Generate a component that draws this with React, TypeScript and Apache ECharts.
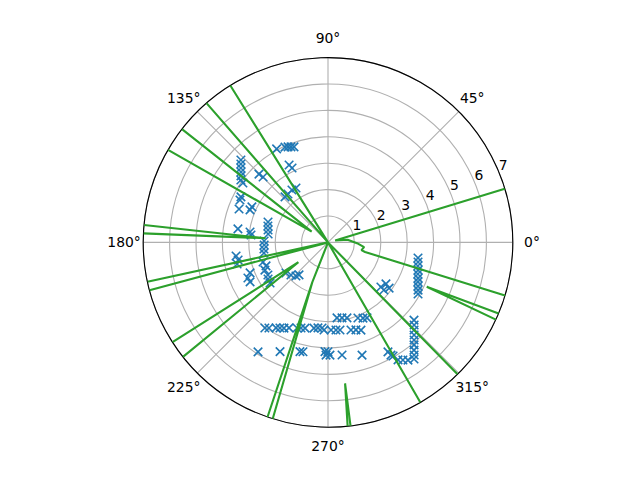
import React, { useEffect, useRef } from 'react';
import * as echarts from 'echarts';

// ---- data (radius, angle in degrees) ----
const angleTicks = [0, 45, 90, 135, 180, 225, 270, 315];
const radiusMax = 7;

// blue "x" markers: [radius, angle°]
const markers: [number, number][] = [
  [4.04, 118.8], [3.96, 114.3], [3.92, 112.7], [3.88, 111.2], [3.84, 109.6],
  [3.28, 116.7], [3.13, 115.8],
  [4.54, 136.6], [4.44, 138.0], [4.34, 139.5], [4.24, 141.0], [4.15, 142.6], [4.06, 144.4], [3.93, 145.1],
  [3.68, 135.3], [3.49, 134.8],
  [2.38, 129.6], [2.41, 124.5], [2.39, 120.5], [2.37, 133.4],
  [3.72, 152.4], [3.70, 154.3], [3.60, 159.4], [3.18, 155.0], [3.20, 157.4],
  [3.45, 171.5], [2.98, 172.4], [2.93, 174.5],
  [2.40, 161.2], [2.36, 164.7], [2.32, 168.3], [2.29, 172.0],
  [2.42, 178.7], [2.42, 182.3], [2.44, 185.9], [2.46, 189.4],
  [3.52, 188.4], [3.47, 191.1], [3.54, 193.4],
  [2.57, 196.8], [2.51, 200.8], [2.61, 203.7],
  [3.17, 201.4], [3.32, 204.0], [3.31, 206.9],
  [2.59, 208.5], [2.66, 211.4], [2.68, 215.0],
  [1.97, 216.1], [1.87, 221.4], [1.76, 226.4], [1.65, 228.3],
  [4.03, 233.6], [3.94, 235.4], [3.79, 238.7], [3.72, 240.7], [3.65, 242.8], [3.56, 245.5],
  [3.45, 250.1], [3.40, 252.5], [3.36, 255.0], [3.29, 260.7], [3.26, 263.3], [3.25, 266.0],
  [4.92, 237.4], [4.52, 246.3], [4.27, 255.6], [4.25, 257.1], [4.14, 268.4], [4.14, 270.0],
  [2.88, 276.8], [2.91, 280.5], [2.95, 284.1], [3.08, 291.6], [3.16, 294.8], [3.22, 297.3],
  [3.32, 267.4], [3.32, 272.0], [3.33, 275.2], [3.35, 277.8], [3.43, 284.7], [3.48, 287.7], [3.55, 290.6],
  [4.27, 269.0], [4.27, 271.0], [4.30, 277.1], [4.46, 286.8], [4.89, 299.2],
  [3.46, 350.2], [3.49, 347.7], [3.52, 345.3], [3.57, 342.9], [3.61, 340.6],
  [3.67, 338.4], [3.72, 336.3], [3.79, 334.1], [3.86, 332.1], [3.93, 330.2],
  [2.62, 319.9], [2.70, 324.4], [2.89, 323.2], [2.78, 319.6],
  [4.39, 317.9], [4.52, 316.2], [4.65, 314.5], [4.79, 312.9], [4.93, 311.4],
  [5.07, 310.0], [5.22, 308.6], [5.37, 307.4], [5.49, 306.4],
  [5.18, 300.8], [5.28, 302.5], [5.39, 304.2],
  [4.73, 298.7], [4.96, 299.8],
];

// green curve pieces: [radius, angle°]
const curvePieces: [number, number][][] = [
  [[7, 121.9], [0, 126], [7, 131.1]],
  [[7, 142.2], [0.74, 146.7], [7, 149.95]],
  [[7, 174.6], [2.37, 176.2], [7, 177.2]],
  [[7, 192.3], [0, 194], [7, 195.0]],
  [[7, 212.7], [1.35, 213.8], [7, 218.3]],
  [[7, 250.9], [1.62, 248.5], [7, 252.6]],
  [[0, 241], [1.62, 248.5]],
  [[7, 276.1], [5.38, 276.9], [7, 277.0]],
  [[7, 300.0], [0, 307], [7, 314.5]],
  [[7, 337.4], [4.1, 335.8], [7, 335.3]],
  [[7, 16.9], [0.28, 15], [0.75, 7.5], [1.1, 358.5], [1.38, 352.5], [1.3, 347.0], [1.45, 345.5], [7, 343.3]],
];

// ---- styling ----
const FONT = 'DejaVu Sans';
const FS = 13.9;
const labelPad: Record<number, number[]> = {
  0: [0, 0, 0, 16.3],
  45: [0, 0, 10.1, 4.8],
  90: [0, 0, 17.2, 0],
  135: [0, 0.4, 10.1, 0],
  180: [0, 7.4, 0, 0],
  225: [10.1, 0.4, 0, 0],
  270: [17.2, 0, 0, 0],
  315: [10.1, 0, 0, 0.4],
};

export default function App() {
  const ref = useRef<HTMLDivElement>(null);
  useEffect(() => {
    if (!ref.current) return;
    const chart = echarts.init(ref.current, undefined, { renderer: 'svg' });

    const lineData: any[] = [];
    curvePieces.forEach((piece, i) => {
      if (i > 0) lineData.push('-');
      piece.forEach((p) => lineData.push(p));
    });

    const rich: Record<string, any> = {};
    angleTicks.forEach((a) => {
      rich['p' + a] = { padding: labelPad[a], fontFamily: FONT, fontSize: FS, color: '#000' };
    });

    const center = [328, 242.4];
    const radius = 184.8;

    chart.setOption({
      animation: false,
      polar: [
        { center, radius },
        { center, radius },
      ],
      angleAxis: [
        {
          polarIndex: 0,
          type: 'value',
          min: 0,
          max: 360,
          interval: 45,
          startAngle: 0,
          clockwise: false,
          axisLine: { show: true, lineStyle: { color: '#000', width: 1.1 } },
          axisTick: { show: false },
          splitLine: { show: true, lineStyle: { color: '#b0b0b0', width: 1.1 } },
          axisLabel: {
            margin: -5,
            fontFamily: FONT,
            fontSize: FS,
            color: '#000',
            formatter: (v: number) => (v >= 360 ? '' : `{p${v}|${v}°}`),
            rich,
          },
        },
        {
          polarIndex: 1,
          type: 'value',
          min: 0,
          max: 360,
          startAngle: 22.5,
          clockwise: false,
          show: false,
        },
      ],
      radiusAxis: [
        {
          polarIndex: 0,
          type: 'value',
          min: 0,
          max: radiusMax,
          interval: 1,
          axisLine: { show: false },
          axisTick: { show: false },
          axisLabel: { show: false },
          splitLine: { show: true, lineStyle: { color: '#b0b0b0', width: 1.1 } },
        },
        {
          polarIndex: 1,
          type: 'value',
          min: 0,
          max: radiusMax,
          interval: 1,
          axisLine: { show: false },
          axisTick: { show: false },
          splitLine: { show: false },
          axisLabel: {
            margin: 0,
            align: 'center',
            verticalAlign: 'middle',
            fontFamily: FONT,
            fontSize: FS,
            color: '#000',
            formatter: (v: number) => (v === 0 ? '' : `{r|${v}}`),
            rich: { r: { padding: [0, 0, 14, 9], fontFamily: FONT, fontSize: FS, color: '#000' } },
          },
        },
      ],
      series: [
        {
          type: 'scatter',
          coordinateSystem: 'polar',
          polarIndex: 0,
          data: markers,
          symbol: 'path://M0 0L10 10M10 0L0 10',
          symbolSize: 8.5,
          itemStyle: { color: 'transparent', borderColor: '#1f77b4', borderWidth: 1.6, opacity: 1 },
          z: 2,
        },
        {
          type: 'line',
          coordinateSystem: 'polar',
          polarIndex: 0,
          data: lineData,
          showSymbol: false,
          symbol: 'none',
          connectNulls: false,
          clip: true,
          lineStyle: { color: '#2ca02c', width: 2.1 },
          z: 3,
        },
      ],
    });
    return () => chart.dispose();
  }, []);
  return (
    <div
      ref={ref}
      style={{ position: 'fixed', left: 0, top: 0, width: 640, height: 480, background: '#fff' }}
    />
  );
}
